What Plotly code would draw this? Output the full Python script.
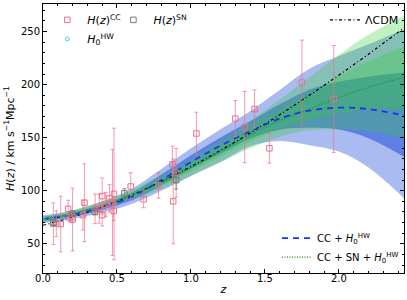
import plotly.graph_objects as go

# ---------------- data ----------------
z_cc = [0.07, 0.09, 0.12, 0.17, 0.179, 0.199, 0.2, 0.27, 0.28, 0.352, 0.38, 0.4, 0.4004,
        0.4247, 0.4497, 0.47, 0.4783, 0.48, 0.593, 0.68, 0.781, 0.875, 0.88, 0.9, 1.037,
        1.3, 1.363, 1.43, 1.53, 1.75, 1.965]
H_cc = [69, 69, 68.6, 83, 75, 75, 72.9, 77, 88.8, 83, 83, 95, 77, 87.1, 92.8, 89, 80.9, 97,
        104, 92, 105, 125, 90, 117, 154, 168, 160, 177, 140, 202, 186.5]
err_cc = [19.6, 12, 26.2, 8, 4, 5, 29.6, 14, 36.6, 14, 13.5, 17, 10.2, 11.2, 12.9, 50, 9, 62,
          13, 8, 12, 17, 40, 23, 20, 17, 33.6, 18, 14, 40, 50.4]

z_sn = [0.07, 0.2, 0.35, 0.55, 0.9]
H_sn = [70.0, 78.5, 80.0, 97.5, 110.0]
err_sn = [1.6, 1.6, 2.6, 4.4, 8.4]

z_hw = [0.0]
H_hw = [73.3]
err_hw = [1.75]

z_grid = [0, 0.2, 0.4, 0.6, 0.8, 1.0, 1.2, 1.4, 1.6, 1.8, 2.0, 2.2, 2.44]
H_lcdm = [67.5, 75.2, 84.7, 96.0, 108.7, 122.8, 138.1, 154.4, 171.7, 189.9, 209.0, 228.7, 253.5]

blue_mean = [73.3, 77.5, 84.5, 94.5, 110.0, 127.0, 142.5, 156.0, 168.0, 175.5, 178.3, 177.0, 171.0]
blue_lo2 = [69.5, 73.5, 79.5, 87.5, 100.0, 114.0, 127.0, 142.0, 147.0, 143.0, 137.0, 122.0, 93.0]
blue_hi2 = [77.0, 81.5, 90.0, 102.0, 120.5, 140.0, 158.0, 175.0, 195.0, 215.0, 227.0, 238.0, 252.0]
blue_lo1 = [71.4, 75.5, 82.0, 91.0, 105.0, 120.5, 134.8, 149.0, 157.5, 159.3, 157.7, 149.5, 132.0]
blue_hi1 = [75.2, 79.5, 87.3, 98.3, 115.3, 133.5, 150.3, 165.5, 181.5, 195.3, 202.7, 207.5, 211.5]

green_mean = [73.0, 78.5, 86.0, 96.0, 108.0, 121.5, 137.0, 152.5, 166.0, 177.0, 188.0, 197.5, 207.0]
green_lo2 = [70.5, 75.5, 82.5, 91.5, 102.0, 114.0, 127.0, 140.0, 151.0, 157.0, 158.0, 156.0, 149.0]
green_hi2 = [76.0, 81.5, 90.0, 101.0, 114.5, 130.0, 147.5, 166.0, 186.0, 207.0, 228.0, 247.0, 265.0]
green_lo1 = [71.8, 77.0, 84.3, 93.8, 105.0, 117.8, 132.0, 146.3, 158.5, 167.0, 173.0, 176.8, 178.0]
green_hi1 = [74.5, 80.0, 88.0, 98.5, 111.3, 125.8, 142.3, 159.3, 176.0, 192.0, 208.0, 222.3, 236.0]

# ---------------- figure ----------------
fig = go.Figure()

def band(lo, hi, color):
    fig.add_trace(go.Scatter(x=z_grid, y=lo, mode="lines", line=dict(width=0, shape="spline"),
                             showlegend=False, hoverinfo="skip"))
    fig.add_trace(go.Scatter(x=z_grid, y=hi, mode="lines", line=dict(width=0, shape="spline"),
                             fill="tonexty", fillcolor=color, showlegend=False, hoverinfo="skip"))

band(blue_lo2, blue_hi2, "rgba(65,105,225,0.45)")
band(blue_lo1, blue_hi1, "rgba(65,105,225,0.72)")
band(green_lo2, green_hi2, "rgba(50,205,50,0.30)")
band(green_lo1, green_hi1, "rgba(50,205,50,0.30)")

fig.add_trace(go.Scatter(x=z_grid, y=H_lcdm, mode="lines", name="ΛCDM", legend="legend2",
                         line=dict(color="black", width=1.2, dash="3px,2.5px,1px,2.5px", shape="spline")))
fig.add_trace(go.Scatter(x=z_grid, y=blue_mean, mode="lines", name="CC + <i>H</i><sub>0</sub><sup>HW</sup>",
                         legend="legend3",
                         line=dict(color="rgb(30,50,240)", width=1.8, dash="6px,5px", shape="spline")))
fig.add_trace(go.Scatter(x=z_grid, y=green_mean, mode="lines",
                         name="CC + SN + <i>H</i><sub>0</sub><sup>HW</sup>", legend="legend3",
                         line=dict(color="rgb(30,140,30)", width=1.1, dash="1px,1.5px", shape="spline")))

pink = "rgb(236,112,140)"
fig.add_trace(go.Scatter(x=z_cc, y=H_cc, mode="markers", name="<i>H</i>(<i>z</i>)<sup>CC</sup>",
                         legend="legend",
                         marker=dict(symbol="square-open", size=5.5, color=pink, line=dict(width=1)),
                         error_y=dict(type="data", array=err_cc, color="rgba(236,112,140,0.7)",
                                      thickness=1, width=2)))
fig.add_trace(go.Scatter(x=z_sn, y=H_sn, mode="markers", name="<i>H</i>(<i>z</i>)<sup>SN</sup>",
                         legend="legend4",
                         marker=dict(symbol="square-open", size=5.5, color="rgb(120,120,120)", line=dict(width=1)),
                         error_y=dict(type="data", array=err_sn, color="rgba(120,120,120,0.8)",
                                      thickness=1, width=2)))
fig.add_trace(go.Scatter(x=z_hw, y=H_hw, mode="markers", name="<i>H</i><sub>0</sub><sup>HW</sup>",
                         legend="legend",
                         marker=dict(symbol="circle-open", size=4, color="rgb(64,210,215)", line=dict(width=1)),
                         error_y=dict(type="data", array=err_hw, color="rgb(64,210,215)",
                                      thickness=1, width=2)))

axis_common = dict(showline=True, linecolor="black", linewidth=1, mirror="allticks",
                   ticks="inside", ticklen=4, tickwidth=1, tickcolor="black",
                   showgrid=False, zeroline=False, automargin=False,
                   tickfont=dict(family="DejaVu Sans", size=10, color="black"))

leg_common = dict(bgcolor="rgba(0,0,0,0)", tracegroupgap=0, traceorder="normal")

fig.update_layout(
    width=407, height=300,
    margin=dict(l=43, r=3, t=4, b=27),
    paper_bgcolor="white", plot_bgcolor="white",
    font=dict(family="DejaVu Sans", size=10, color="black"),
    xaxis=dict(range=[0, 2.44], dtick=0.5, tick0=0, tickformat=".1f", ticklabelstandoff=-4,
               title=dict(text="<i>z</i>", font=dict(size=11), standoff=2),
               minor=dict(ticks="inside", ticklen=2, dtick=0.1, tickcolor="black"),
               **axis_common),
    yaxis=dict(range=[22.5, 276], dtick=50, tick0=0,
               title=dict(text="<i>H</i>(<i>z</i>) / km s<sup>−1</sup>Mpc<sup>−1</sup>",
                          font=dict(size=11), standoff=4),
               minor=dict(ticks="inside", ticklen=2, dtick=10, tickcolor="black"),
               **axis_common),
    legend=dict(x=0.012, y=0.995, xanchor="left", yanchor="top", font=dict(size=11), **leg_common),
    legend4=dict(x=0.195, y=0.995, xanchor="left", yanchor="top", font=dict(size=11), **leg_common),
    legend2=dict(x=1.0, y=0.995, xanchor="right", yanchor="top", font=dict(size=11), **leg_common),
    legend3=dict(x=1.0, y=0.005, xanchor="right", yanchor="bottom", font=dict(size=10), **leg_common),
)

fig.write_html("out.html", config={"displayModeBar": False},
               post_script="document.body.style.margin='0px';")
